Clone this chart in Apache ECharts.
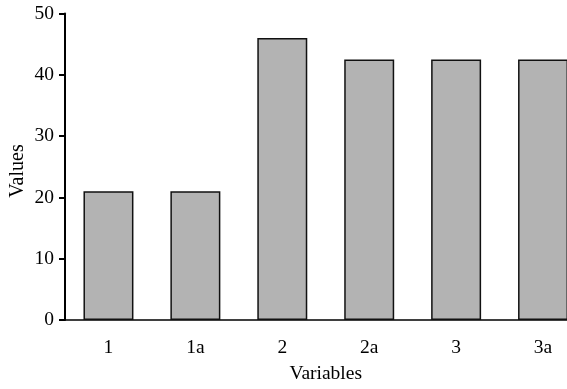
<!DOCTYPE html>
<html>
<head>
<meta charset="utf-8">
<script src="https://cdn.jsdelivr.net/npm/echarts@6/dist/echarts.min.js"></script>
<style>html,body{margin:0;padding:0;background:#fff;}#c{width:567px;height:389px;}</style>
</head>
<body>
<div id="c"></div>
<script>
var categories = ['1', '1a', '2', '2a', '3', '3a'];
var values = [21, 21, 46, 42.5, 42.5, 42.5];
var yTicks = [0, 10, 20, 30, 40, 50];
var xTitle = 'Variables';
var yTitle = 'Values';

var chart = echarts.init(document.getElementById('c'), null, {renderer: 'canvas'});
var font = 'Liberation Serif';
chart.setOption({
  animation: false,
  backgroundColor: '#fff',
  grid: {left: 65, top: 13.5, bottom: 69, right: -19.5, containLabel: false, outerBoundsMode: 'none'},
  graphic: [{
    type: 'text',
    x: 17.5,
    y: 171,
    rotation: Math.PI / 2,
    style: {text: yTitle, fill: '#000', font: '20px "Liberation Serif"', align: 'center', verticalAlign: 'middle'}
  }],
  xAxis: {
    type: 'category',
    data: categories,
    name: xTitle,
    nameLocation: 'middle',
    nameGap: 44,
    nameMoveOverlap: false,
    nameTextStyle: {fontFamily: font, fontSize: 19.5, color: '#000'},
    axisLine: {lineStyle: {color: '#000', width: 1.5}},
    axisTick: {alignWithLabel: true, length: 6, lineStyle: {color: '#000', width: 1.5}},
    axisLabel: {fontFamily: font, fontSize: 19.5, color: '#000', margin: 18},
    splitLine: {show: false}
  },
  yAxis: {
    type: 'value',
    min: yTicks[0],
    max: yTicks[yTicks.length - 1],
    interval: 10,
    axisLine: {show: true, lineStyle: {color: '#000', width: 2}},
    axisTick: {show: true, length: 6, lineStyle: {color: '#000', width: 2}},
    axisLabel: {fontFamily: font, fontSize: 19.5, color: '#000', margin: 11},
    splitLine: {show: false}
  },
  series: [{
    type: 'bar',
    data: values,
    barWidth: '57.5%',
    itemStyle: {color: '#b3b3b3', borderColor: '#111', borderWidth: 1.5}
  }]
});
</script>
</body>
</html>
